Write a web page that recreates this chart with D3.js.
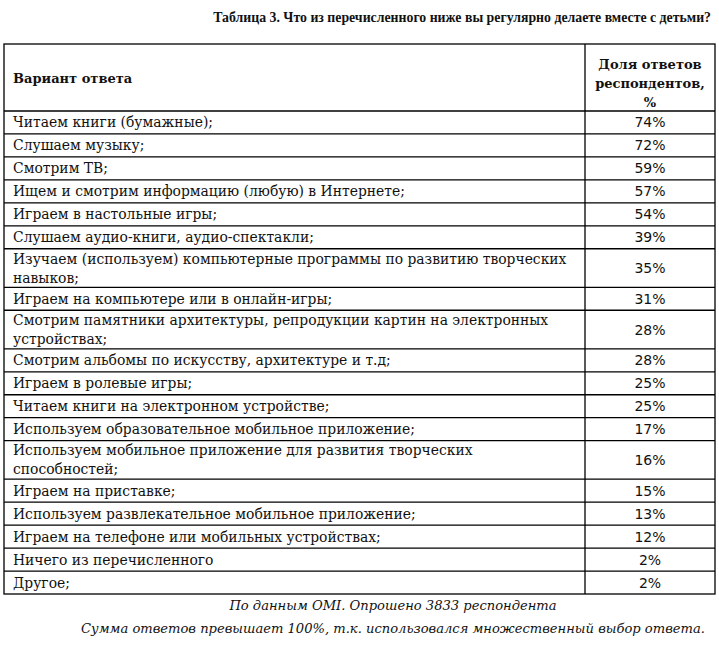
<!DOCTYPE html>
<html>
<head>
<meta charset="utf-8">
<script src="https://cdn.jsdelivr.net/npm/d3@7"></script>
<style>
  body { margin: 0; background: #fff; }
  svg text { fill: #111; }
  .title { font-family: "Liberation Serif", serif; font-weight: bold; }
  .head { font-family: "DejaVu Serif", serif; font-weight: bold; }
  .label { font-family: "DejaVu Serif", serif; }
  .value { font-family: "DejaVu Sans", sans-serif; }
  .note { font-family: "DejaVu Serif", serif; font-style: italic; }
</style>
</head>
<body>
<div id="chart"></div>
<script>
var title = 'Таблица 3. Что из перечисленного ниже вы регулярно делаете вместе с детьми?';
var headers = ['Вариант ответа', 'Доля ответов\nреспондентов,\n%'];

var answers = [
  'Читаем книги (бумажные);',
  'Слушаем музыку;',
  'Смотрим ТВ;',
  'Ищем и смотрим информацию (любую) в Интернете;',
  'Играем в настольные игры;',
  'Слушаем аудио-книги, аудио-спектакли;',
  'Изучаем (используем) компьютерные программы по развитию творческих\nнавыков;',
  'Играем на компьютере или в онлайн-игры;',
  'Смотрим памятники архитектуры, репродукции картин на электронных\nустройствах;',
  'Смотрим альбомы по искусству, архитектуре и т.д;',
  'Играем в ролевые игры;',
  'Читаем книги на электронном устройстве;',
  'Используем образовательное мобильное приложение;',
  'Используем мобильное приложение для развития творческих\nспособностей;',
  'Играем на приставке;',
  'Используем развлекательное мобильное приложение;',
  'Играем на телефоне или мобильных устройствах;',
  'Ничего из перечисленного',
  'Другое;'
];
var shares = [74, 72, 59, 57, 54, 39, 35, 31, 28, 28, 25, 25, 17, 16, 15, 13, 12, 2, 2];

var notes = [
  'По данным OMI. Опрошено 3833 респондента',
  'Сумма ответов превышает 100%, т.к. использовался множественный выбор ответа.'
];

var W = 719, H = 648;
var xLeft = 4, xSplit = 585, xRight = 715;
var yTop = 44, yHead = 111, yBottom = 594;
var doubleUnits = 1.68;

var rows = answers.map(function (a, i) {
  var lines = a.split('\n');
  return { lines: lines, value: shares[i], units: lines.length > 1 ? doubleUnits : 1 };
});
var acc = 0;
rows.forEach(function (r) { r.start = acc; acc += r.units; r.end = acc; });

var y = d3.scaleLinear().domain([0, acc]).range([yHead, yBottom]);

var svg = d3.select('#chart').append('svg')
  .attr('width', W)
  .attr('height', H);

svg.append('text')
  .attr('class', 'title')
  .attr('x', 711)
  .attr('y', 22)
  .attr('text-anchor', 'end')
  .style('font-size', '13.8px')
  .text(title);

// grid
var grid = svg.append('g')
  .attr('stroke', '#000')
  .attr('stroke-width', 1.3)
  .attr('fill', 'none');

grid.append('rect')
  .attr('x', xLeft)
  .attr('y', yTop)
  .attr('width', xRight - xLeft)
  .attr('height', yBottom - yTop);

grid.append('line')
  .attr('x1', xSplit).attr('x2', xSplit)
  .attr('y1', yTop).attr('y2', yBottom);

grid.selectAll('line.row')
  .data([0].concat(rows.map(function (r) { return r.end; })).slice(0, -1))
  .enter()
  .append('line')
  .attr('class', 'row')
  .attr('x1', xLeft).attr('x2', xRight)
  .attr('y1', function (d) { return y(d); })
  .attr('y2', function (d) { return y(d); });

// header
svg.append('text')
  .attr('class', 'head')
  .attr('x', 13)
  .attr('y', (yTop + yHead) / 2 + 5)
  .style('font-size', '13px')
  .text(headers[0]);

svg.append('text')
  .attr('class', 'head')
  .attr('text-anchor', 'middle')
  .style('font-size', '13px')
  .selectAll('tspan')
  .data(headers[1].split('\n'))
  .enter()
  .append('tspan')
  .attr('x', (xSplit + xRight) / 2)
  .attr('y', function (d, i) { return 69 + i * 19; })
  .text(function (d) { return d; });

// body
var row = svg.selectAll('g.answer')
  .data(rows)
  .enter()
  .append('g')
  .attr('class', 'answer');

row.append('text')
  .attr('class', 'label')
  .style('font-size', '13.9px')
  .each(function (d) {
    var t = d3.select(this);
    var mid = (y(d.start) + y(d.end)) / 2;
    var n = d.lines.length;
    d.lines.forEach(function (line, i) {
      t.append('tspan')
        .attr('x', 13)
        .attr('y', mid + 5 + (i - (n - 1) / 2) * 19)
        .text(line);
    });
  });

row.append('text')
  .attr('class', 'value')
  .attr('text-anchor', 'middle')
  .attr('x', (xSplit + xRight) / 2)
  .attr('y', function (d) { return (y(d.start) + y(d.end)) / 2 + 5; })
  .style('font-size', '14px')
  .text(function (d) { return d.value + '%'; });

// notes
svg.selectAll('text.note')
  .data(notes)
  .enter()
  .append('text')
  .attr('class', 'note')
  .attr('text-anchor', 'middle')
  .attr('x', 393)
  .attr('y', function (d, i) { return 610 + i * 23; })
  .style('font-size', '13.1px')
  .text(function (d) { return d; });
</script>
</body>
</html>
